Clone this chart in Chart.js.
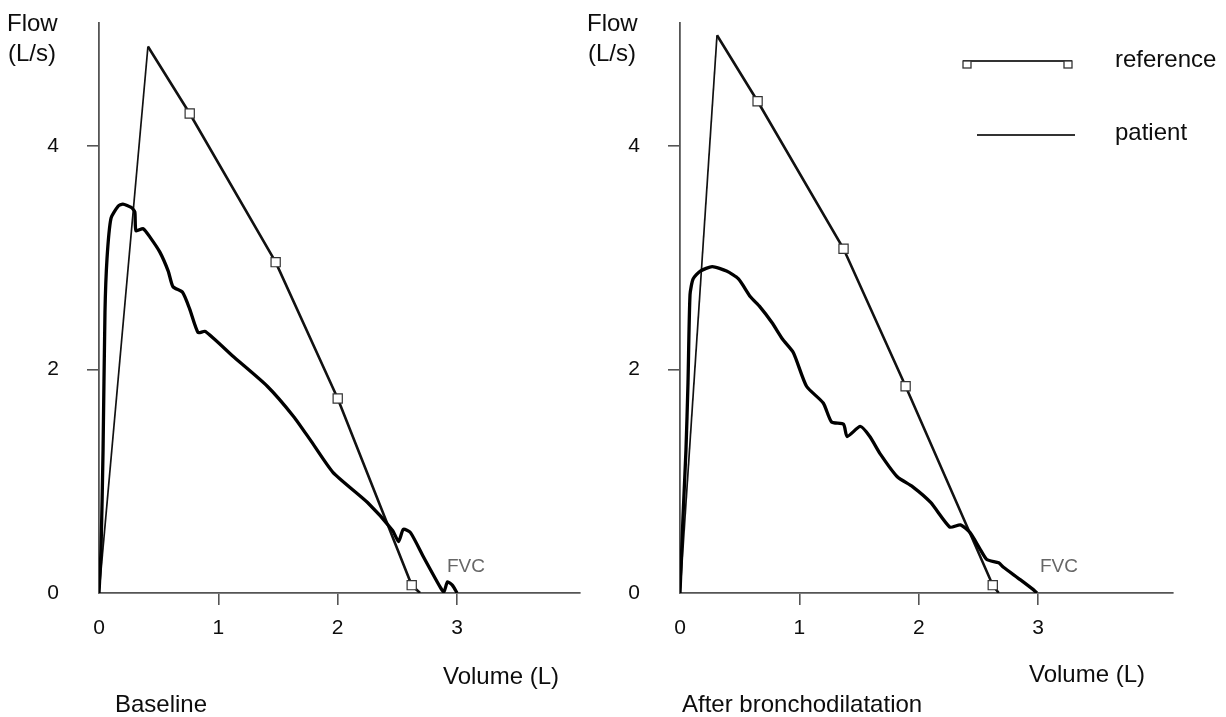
<!DOCTYPE html>
<html>
<head>
<meta charset="utf-8">
<script src="https://cdn.jsdelivr.net/npm/chart.js@4.4.1/dist/chart.umd.min.js"></script>
<style>
  html, body { margin: 0; padding: 0; background: #fff; }
  #wrap { position: relative; width: 1226px; height: 717px; overflow: hidden; }
  canvas { position: absolute; top: 0; }
  #baseline { left: 0; }
  #after { left: 580px; }
</style>
</head>
<body>
<div id="wrap">
  <canvas id="baseline" width="600" height="717"></canvas>
  <canvas id="after" width="646" height="717"></canvas>
</div>
<script>
// axis ticks
var xTickValues = [0, 1, 2, 3];
var yTickValues = [0, 2, 4];
var yMax = 5.1;

// Baseline: reference curve (squares mark the predicted points)
var baseRefVolume = [0, 0.41, 0.76, 1.48, 2.00, 2.62, 2.69];
var baseRefFlow   = [0, 4.89, 4.29, 2.96, 1.74, 0.07, 0];
var baseRefMarker = [0, 0, 1, 1, 1, 1, 0];

// Baseline: patient curve
var basePatVolume = [0, 0.017, 0.034, 0.05, 0.067, 0.10, 0.16, 0.20, 0.27, 0.30, 0.31, 0.37, 0.43,
  0.51, 0.58, 0.62, 0.70, 0.76, 0.83, 0.89, 1.12, 1.41, 1.63, 1.77, 1.96, 2.25, 2.46, 2.51,
  2.55, 2.61, 2.72, 2.86, 2.89, 2.92, 2.96, 3.00];
var basePatFlow   = [0, 0.39, 1.28, 2.51, 2.99, 3.35, 3.46, 3.48, 3.45, 3.41, 3.24, 3.26, 3.18,
  3.05, 2.88, 2.74, 2.69, 2.54, 2.33, 2.34, 2.12, 1.85, 1.58, 1.37, 1.08, 0.81, 0.56, 0.46,
  0.57, 0.54, 0.32, 0.05, 0.01, 0.10, 0.07, 0];

// After bronchodilatation: reference curve
var postRefVolume = [0, 0.31, 0.65, 1.37, 1.89, 2.62, 2.67];
var postRefFlow   = [0, 4.99, 4.40, 3.08, 1.85, 0.07, 0];
var postRefMarker = [0, 0, 1, 1, 1, 1, 0];

// After bronchodilatation: patient curve
var postPatVolume = [0, 0.025, 0.05, 0.067, 0.084, 0.11, 0.17, 0.27, 0.39, 0.49, 0.59, 0.67, 0.77,
  0.86, 0.95, 1.06, 1.20, 1.27, 1.37, 1.40, 1.51, 1.59, 1.68, 1.82, 1.95, 2.10, 2.26, 2.35,
  2.43, 2.51, 2.57, 2.67, 2.71, 2.85, 2.96, 2.99];
var postPatFlow   = [0, 0.68, 1.28, 1.88, 2.67, 2.81, 2.88, 2.92, 2.88, 2.81, 2.65, 2.56, 2.42,
  2.27, 2.15, 1.85, 1.70, 1.53, 1.51, 1.40, 1.49, 1.40, 1.24, 1.04, 0.95, 0.81, 0.59, 0.61,
  0.54, 0.40, 0.30, 0.27, 0.23, 0.12, 0.03, 0];

var FONT = '"Liberation Sans", Arial, sans-serif';
var INK = '#0d0d0d';
var AXIS = '#555';

function toPoints(xs, ys) {
  return xs.map(function (x, i) {
    return { x: x, y: ys[i] };
  });
}

var panelText = {
  id: 'panelText',
  afterDraw: function (chart, args, opts) {
    var ctx = chart.ctx;
    ctx.save();
    ctx.textAlign = 'left';
    ctx.textBaseline = 'alphabetic';
    (opts.items || []).forEach(function (t) {
      ctx.font = t.size + 'px ' + FONT;
      ctx.fillStyle = t.color || INK;
      ctx.fillText(t.text, t.x, t.y);
    });

    var lg = opts.legend;
    if (lg) {
      // reference: line with small squares at both ends
      ctx.strokeStyle = '#333';
      ctx.lineWidth = 2;
      ctx.beginPath();
      ctx.moveTo(lg.refX0, lg.refY);
      ctx.lineTo(lg.refX1, lg.refY);
      ctx.stroke();
      ctx.fillStyle = '#fff';
      ctx.lineWidth = 1.3;
      [lg.refX0 + 4, lg.refX1 - 4].forEach(function (sx) {
        ctx.fillRect(sx - 4, lg.refY, 8, 7);
        ctx.strokeRect(sx - 4, lg.refY, 8, 7);
      });
      // patient: plain line
      ctx.lineWidth = 2;
      ctx.beginPath();
      ctx.moveTo(lg.patX0, lg.patY);
      ctx.lineTo(lg.patX1, lg.patY);
      ctx.stroke();

      ctx.font = '24px ' + FONT;
      ctx.fillStyle = INK;
      ctx.fillText('reference', lg.textX, lg.refY + 6);
      ctx.fillText('patient', lg.textX, lg.patY + 5);
    }
    ctx.restore();
  }
};

function flowChart(canvasId, cfg) {
  var ctx = document.getElementById(canvasId).getContext('2d');
  return new Chart(ctx, {
    type: 'line',
    data: {
      datasets: [
        {
          label: 'reference',
          data: toPoints(cfg.refX, cfg.refY),
          borderColor: '#111',
          borderWidth: 2.6,
          segment: {
            // the rising limb is drawn thinner than the falling one
            borderWidth: function (s) { return s.p0DataIndex === 0 ? 1.7 : 2.6; }
          },
          tension: 0,
          pointStyle: 'rect',
          pointRadius: function (c) { return cfg.refMarker[c.dataIndex] ? 6.5 : 0; },
          pointBackgroundColor: '#fff',
          pointBorderColor: '#333',
          pointBorderWidth: 1.2,
          order: 2
        },
        {
          label: 'patient',
          data: toPoints(cfg.patX, cfg.patY),
          borderColor: '#000',
          borderWidth: 3.3,
          tension: 0.2,
          pointRadius: 0,
          order: 1
        }
      ]
    },
    options: {
      responsive: false,
      animation: false,
      events: [],
      layout: { padding: { left: 0, top: 23, right: cfg.padRight, bottom: 0 } },
      scales: {
        x: {
          type: 'linear',
          min: 0,
          max: cfg.xMax,
          afterBuildTicks: function (s) {
            s.ticks = xTickValues.map(function (v) { return { value: v }; });
          },
          afterFit: function (s) {
            s.height = 124;
            s.paddingLeft = 0;
            s.paddingRight = 0;
          },
          grid: {
            drawOnChartArea: false,
            drawTicks: true,
            tickLength: 12,
            lineWidth: 1.6,
            color: function (c) { return c.tick && c.tick.value === 0 ? 'rgba(0,0,0,0)' : AXIS; }
          },
          border: { display: true, color: AXIS, width: 1.8 },
          ticks: { color: INK, padding: 11, font: { family: FONT, size: 21 } }
        },
        y: {
          type: 'linear',
          min: 0,
          max: yMax,
          afterBuildTicks: function (s) {
            s.ticks = yTickValues.map(function (v) { return { value: v }; });
          },
          afterFit: function (s) {
            s.width = cfg.yWidth;
            s.paddingTop = 0;
            s.paddingBottom = 0;
          },
          grid: {
            drawOnChartArea: false,
            drawTicks: true,
            tickLength: 12,
            lineWidth: 1.6,
            color: function (c) { return c.tick && c.tick.value === 0 ? 'rgba(0,0,0,0)' : AXIS; }
          },
          border: { display: true, color: AXIS, width: 1.8 },
          ticks: { color: INK, padding: 28, font: { family: FONT, size: 21 } }
        }
      },
      plugins: {
        legend: { display: false },
        tooltip: { enabled: false },
        panelText: { items: cfg.texts, legend: cfg.legend }
      }
    },
    plugins: [panelText]
  });
}

flowChart('baseline', {
  refX: baseRefVolume, refY: baseRefFlow, refMarker: baseRefMarker,
  patX: basePatVolume, patY: basePatFlow,
  xMax: 4.03, yWidth: 99, padRight: 20,
  texts: [
    { text: 'Flow', x: 7, y: 31, size: 24 },
    { text: '(L/s)', x: 8, y: 61, size: 24 },
    { text: 'Volume (L)', x: 443, y: 684, size: 24 },
    { text: 'Baseline', x: 115, y: 712, size: 24 },
    { text: 'FVC', x: 447, y: 572, size: 19, color: '#666' }
  ]
});

flowChart('after', {
  refX: postRefVolume, refY: postRefFlow, refMarker: postRefMarker,
  patX: postPatVolume, patY: postPatFlow,
  xMax: 4.13, yWidth: 100, padRight: 53,
  texts: [
    { text: 'Flow', x: 7, y: 31, size: 24 },
    { text: '(L/s)', x: 8, y: 61, size: 24 },
    { text: 'Volume (L)', x: 449, y: 682, size: 24 },
    { text: 'After bronchodilatation', x: 102, y: 712, size: 24 },
    { text: 'FVC', x: 460, y: 572, size: 19, color: '#666' }
  ],
  legend: { refX0: 383, refX1: 492, refY: 61, patX0: 397, patX1: 495, patY: 135, textX: 535 }
});
</script>
</body>
</html>
